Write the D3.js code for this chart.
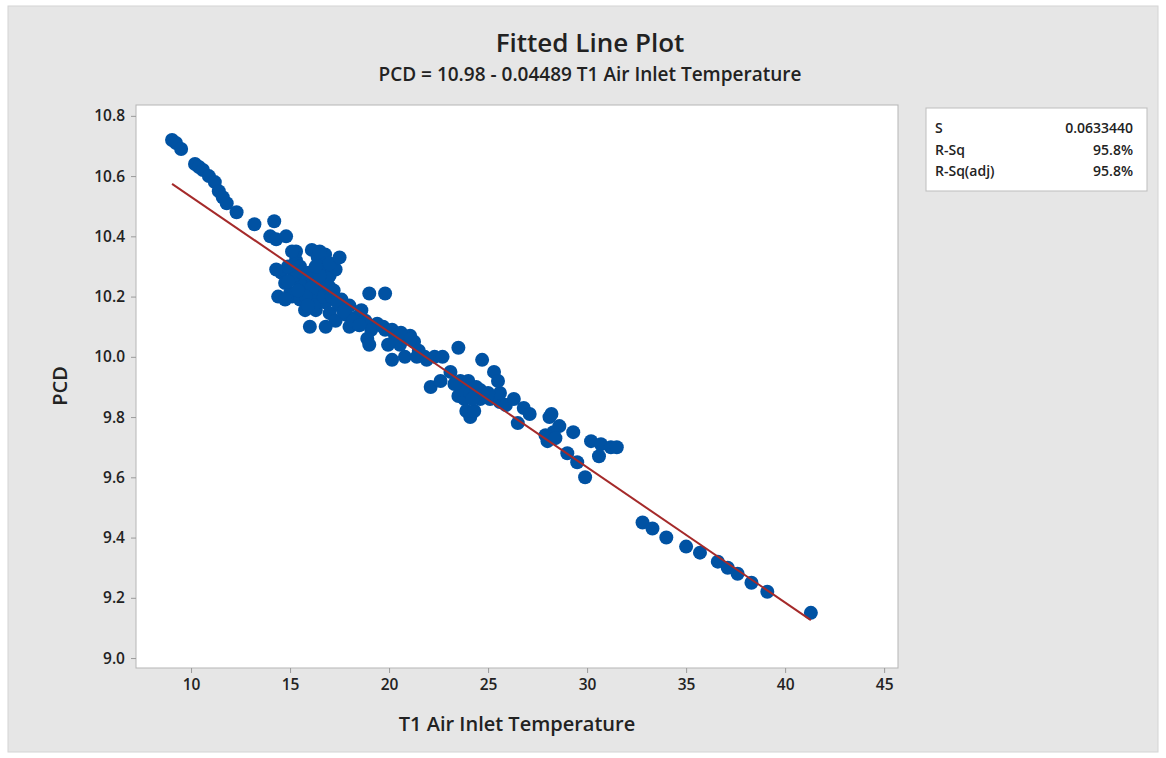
<!DOCTYPE html>
<html>
<head>
<meta charset="utf-8">
<script src="https://cdn.jsdelivr.net/npm/d3@7"></script>
<style>
  body { margin: 0; background: #fff; }
  text { font-family: "Open Sans", "Noto Sans", sans-serif; fill: #222; }
</style>
</head>
<body>
<svg id="chart" width="1166" height="758"></svg>
<script>
// data (T1 Air Inlet Temperature, PCD)
var tempVals = [
  9.04, 9.24, 9.5, 10.2, 10.4, 10.6, 10.9, 11.2, 11.4, 11.6, 11.8, 12.3, 13.2, 14.2,
  14.0, 14.3, 14.8, 14.55, 14.75, 15.0, 15.1, 15.3, 15.5, 15.76, 15.9, 16.1, 16.4, 16.6,
  16.77, 16.3, 16.5, 16.9, 16.0, 16.3, 16.8, 17.0, 15.5, 15.76, 17.5, 17.8, 18.0, 18.3,
  18.6, 18.8, 17.3, 15.5, 15.2, 14.9, 17.0, 17.3, 17.0, 15.3, 14.3, 14.4, 14.75, 16.0,
  16.8, 18.0, 15.1, 16.5, 17.5, 16.2, 16.6, 15.8, 16.4, 17.2, 16.9, 15.6, 16.1, 17.6,
  15.8, 16.2, 16.7, 17.1, 17.4, 16.0, 16.5, 15.4, 17.7, 18.2, 16.3, 17.0, 15.9, 14.9,
  19.0, 19.8, 19.4, 19.8, 20.15, 20.3, 20.55, 20.8, 21.06, 21.26, 19.95, 19.1, 18.9, 19.0,
  18.5, 20.15, 20.8, 21.5, 21.8, 19.7, 20.6, 21.1, 22.3, 21.4,
  21.9, 22.7, 23.5, 23.1, 22.1, 22.6, 23.6, 24.0, 23.5, 23.8, 24.1, 24.6, 25.1, 25.6,
  24.7, 25.3, 23.9, 24.3, 23.7, 24.1, 23.3, 25.6, 25.9, 25.5, 24.6, 24.2, 24.4, 25.0,
  26.3, 26.8, 27.1, 26.5, 28.1, 28.6, 28.0, 28.3, 29.3, 30.2, 30.7, 31.2, 31.5, 29.0,
  28.2, 29.5, 30.6, 29.9, 27.9, 28.4,
  32.8, 33.3, 34.0, 35.0, 35.7, 36.6, 37.1, 37.6, 38.3, 39.1, 41.3
];
var pcdVals = [
  10.72, 10.71, 10.69, 10.64, 10.63, 10.62, 10.60, 10.58, 10.55, 10.53, 10.51, 10.48, 10.44, 10.45,
  10.40, 10.39, 10.40, 10.28, 10.245, 10.21, 10.20, 10.32, 10.30, 10.26, 10.23, 10.355, 10.33, 10.30,
  10.34, 10.27, 10.24, 10.22, 10.19, 10.155, 10.18, 10.145, 10.19, 10.155, 10.17, 10.14, 10.17, 10.13,
  10.155, 10.12, 10.12, 10.24, 10.27, 10.30, 10.27, 10.29, 10.31, 10.35, 10.29, 10.20, 10.19, 10.10,
  10.10, 10.10, 10.35, 10.35, 10.33, 10.25, 10.21, 10.21, 10.20, 10.22, 10.26, 10.28, 10.23, 10.19,
  10.20, 10.17, 10.20, 10.20, 10.18, 10.28, 10.27, 10.22, 10.15, 10.12, 10.30, 10.23, 10.17, 10.25,
  10.21, 10.21, 10.11, 10.09, 10.09, 10.07, 10.04, 10.06, 10.07, 10.05, 10.04, 10.09, 10.06, 10.04,
  10.105, 9.99, 10.00, 10.02, 10.00, 10.10, 10.08, 10.06, 10.00, 10.00,
  9.99, 10.00, 10.03, 9.95, 9.90, 9.92, 9.92, 9.92, 9.87, 9.86, 9.80, 9.89, 9.86, 9.85,
  9.99, 9.95, 9.82, 9.82, 9.89, 9.88, 9.91, 9.88, 9.84, 9.92, 9.86, 9.86, 9.90, 9.88,
  9.86, 9.83, 9.81, 9.78, 9.80, 9.77, 9.72, 9.75, 9.75, 9.72, 9.71, 9.70, 9.70, 9.68,
  9.81, 9.65, 9.67, 9.60, 9.74, 9.73,
  9.45, 9.43, 9.40, 9.37, 9.35, 9.32, 9.30, 9.28, 9.25, 9.22, 9.15
];
var xTicks = [10, 15, 20, 25, 30, 35, 40, 45];
var yTicks = [9.0, 9.2, 9.4, 9.6, 9.8, 10.0, 10.2, 10.4, 10.6, 10.8];
var fitIntercept = 10.98, fitSlope = -0.04489;
var statLabels = ["S", "R-Sq", "R-Sq(adj)"];
var statValues = ["0.0633440", "95.8%", "95.8%"];

var svg = d3.select("#chart");

// outer gray panel
svg.append("rect").attr("x", 8).attr("y", 6).attr("width", 1150).attr("height", 746)
  .attr("fill", "#e6e6e6").attr("stroke", "#d4d4d4");

var plotL = 136, plotR = 898, plotT = 105, plotB = 668;
var x = d3.scaleLinear().domain([7.22, 45.7]).range([plotL, plotR]);
var y = d3.scaleLinear().domain([8.967, 10.836]).range([plotB, plotT]);

svg.append("rect").attr("x", plotL).attr("y", plotT).attr("width", plotR - plotL).attr("height", plotB - plotT)
  .attr("fill", "#fff").attr("stroke", "#b5b5b5");

var xAxis = svg.append("g").attr("transform", "translate(0," + plotB + ")")
  .call(d3.axisBottom(x).tickValues(xTicks).tickSize(5).tickPadding(6).tickFormat(d3.format("d")));
var yAxis = svg.append("g").attr("transform", "translate(" + plotL + ",0)")
  .call(d3.axisLeft(y).tickValues(yTicks).tickSize(5).tickPadding(6).tickFormat(d3.format(".1f")));
[xAxis, yAxis].forEach(function(g){
  g.select(".domain").remove();
  g.selectAll("line").attr("stroke", "#9a9a9a");
  g.selectAll("text").style("font-size", "15.5px").style("font-weight", 600).attr("fill", "#222");
});

// points
var pts = tempVals.map(function(t, i){ return {t: t, p: pcdVals[i]}; });
svg.append("g").selectAll("circle").data(pts).enter().append("circle")
  .attr("cx", function(d){ return x(d.t); })
  .attr("cy", function(d){ return y(d.p); })
  .attr("r", 7)
  .attr("fill", "#0052a3");

// fitted line
var tMin = d3.min(tempVals), tMax = d3.max(tempVals);
svg.append("line")
  .attr("x1", x(tMin)).attr("y1", y(fitIntercept + fitSlope * tMin))
  .attr("x2", x(tMax)).attr("y2", y(fitIntercept + fitSlope * tMax))
  .attr("stroke", "#a52a2a").attr("stroke-width", 2);

// titles
svg.append("text").attr("x", 590).attr("y", 52).attr("text-anchor", "middle")
  .style("font-size", "26px").style("font-weight", 600).text("Fitted Line Plot");
svg.append("text").attr("x", 590).attr("y", 81).attr("text-anchor", "middle")
  .style("font-size", "19px").style("font-weight", 600).text("PCD = 10.98 - 0.04489 T1 Air Inlet Temperature");
svg.append("text").attr("x", 517).attr("y", 731).attr("text-anchor", "middle")
  .style("font-size", "20px").style("font-weight", 600).text("T1 Air Inlet Temperature");
svg.append("text").attr("transform", "translate(67,386) rotate(-90)").attr("text-anchor", "middle")
  .style("font-size", "20px").style("font-weight", 600).text("PCD");

// stats box
var box = svg.append("g");
box.append("rect").attr("x", 926).attr("y", 108).attr("width", 221).attr("height", 83)
  .attr("fill", "#fff").attr("stroke", "#bdbdbd");
statLabels.forEach(function(s, i){
  box.append("text").attr("x", 935).attr("y", 133 + i * 21.5)
    .style("font-size", "14px").style("font-weight", 600).text(s);
  box.append("text").attr("x", 1133).attr("y", 133 + i * 21.5).attr("text-anchor", "end")
    .style("font-size", "14px").style("font-weight", 600).attr("fill", "#333").text(statValues[i]);
});
</script>
</body>
</html>
